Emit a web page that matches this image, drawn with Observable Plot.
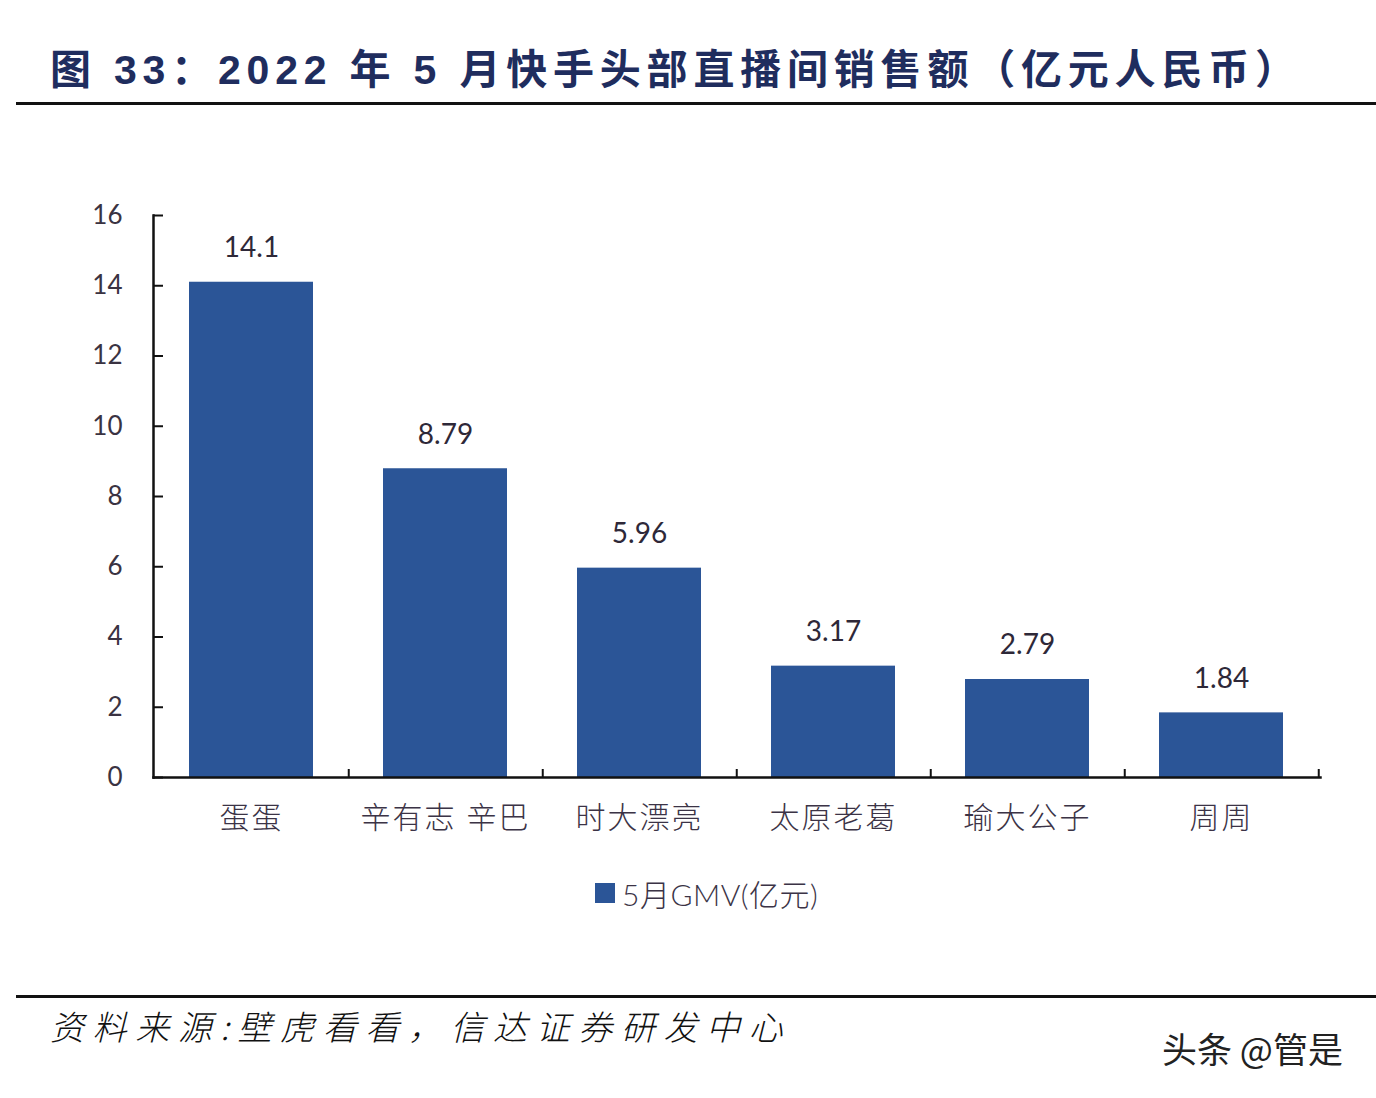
<!DOCTYPE html>
<html><head><meta charset="utf-8">
<script src="https://cdn.jsdelivr.net/npm/d3@7"></script>
<script src="https://cdn.jsdelivr.net/npm/@observablehq/plot@0.6"></script>
<style>
body{margin:0;background:#fff;}
#page{position:relative;width:1376px;height:1098px;overflow:hidden;background:#fff;}
.abs{position:absolute;white-space:nowrap;}
#chart{position:absolute;left:0;top:180px;}
#chart svg g[aria-label="x-axis tick label"] text{letter-spacing:2px;}
</style></head><body><div id="page">
<div class="abs" id="title" style="left:50px;top:46px;font-weight:bold;font-size:41px;font-family:'Liberation Sans','Noto Sans CJK SC',sans-serif;color:#1f2d5e;letter-spacing:5.8px;line-height:48px"></div>
<div class="abs" style="left:16px;right:0;top:102px;height:3px;background:#111"></div>
<div id="chart"></div>
<div class="abs" id="legend" style="left:595px;top:874px;height:38px;display:flex;align-items:center;font-size:30px;font-weight:300;font-family:'Lato','Noto Sans CJK SC',sans-serif;color:#3b3346">
  <span style="display:inline-block;width:20px;height:20px;background:#2b5597;margin-right:7px"></span><span id="legendText" style="letter-spacing:0.5px"></span>
</div>
<div class="abs" style="left:16px;right:0;top:995px;height:3px;background:#111"></div>
<div class="abs" id="source" style="left:50px;top:1004px;font-size:34px;font-style:italic;font-family:'Noto Sans CJK SC',sans-serif;font-weight:300;color:#111;letter-spacing:8.6px;line-height:44px"></div>
<div class="abs" id="mark" style="left:1162px;top:1027px;font-size:35px;font-family:'Noto Sans CJK SC',sans-serif;color:#222;line-height:42px"></div>
</div>
<script>
const titleText = "图 33：2022 年 5 月快手头部直播间销售额（亿元人民币）";
const sourceText = "资料来源:壁虎看看，信达证券研发中心";
const watermarkText = "头条 @管是";
const legendLabel = "5月GMV(亿元)";
const categories = ["蛋蛋", "辛有志 辛巴", "时大漂亮", "太原老葛", "瑜大公子", "周周"];
const gmv = [14.1, 8.79, 5.96, 3.17, 2.79, 1.84];
const valueLabels = ["14.1", "8.79", "5.96", "3.17", "2.79", "1.84"];
const yTicks = [0, 2, 4, 6, 8, 10, 12, 14, 16];

document.getElementById("title").textContent = titleText;
document.getElementById("source").textContent = sourceText;
document.getElementById("mark").textContent = watermarkText;
document.getElementById("legendText").textContent = legendLabel;

const data = categories.map((c, i) => ({name: c, value: gmv[i], label: valueLabels[i]}));

const W = 1376, H = 680, mL = 153, mR = 56, mT = 35, mB = 83;
const plotW = W - mL - mR, plotH = H - mT - mB;
const step = plotW / categories.length;

const chart = Plot.plot({
  width: W, height: H,
  marginLeft: mL, marginRight: mR, marginTop: mT, marginBottom: mB,
  style: {fontFamily: "Lato, 'Noto Sans CJK SC', sans-serif", background: "transparent", overflow: "visible"},
  x: {domain: categories, paddingInner: 0.36, paddingOuter: 0.18, align: 0.5},
  y: {domain: [0, 16]},
  marks: [
    Plot.barY(data, {x: "name", y: "value", fill: "#2b5597"}),
    Plot.text(data, {x: "name", y: "value", text: "label", dy: -34, fontSize: 28, fill: "#2e2838", style: "letter-spacing:0.5px"}),
    Plot.axisY({ticks: yTicks, tickSize: 0, tickPadding: 31, fontSize: 26, color: "#3a3342", label: null}),
    Plot.axisX({tickSize: 0, tickPadding: 29, fontSize: 30, fontWeight: 300, color: "#3b3346", label: null}),
    Plot.ruleY(yTicks, {y: d => d, insetRight: plotW - 10, stroke: "#111", strokeWidth: 2}),
    Plot.ruleX(categories, {x: d => d, dx: step / 2, insetTop: plotH - 8, stroke: "#111", strokeWidth: 2}),
    Plot.frame({anchor: "left", stroke: "#111", strokeWidth: 2.5}),
    Plot.frame({anchor: "bottom", stroke: "#111", strokeWidth: 2.5})
  ]
});
document.getElementById("chart").appendChild(chart);
</script>
</body></html>
